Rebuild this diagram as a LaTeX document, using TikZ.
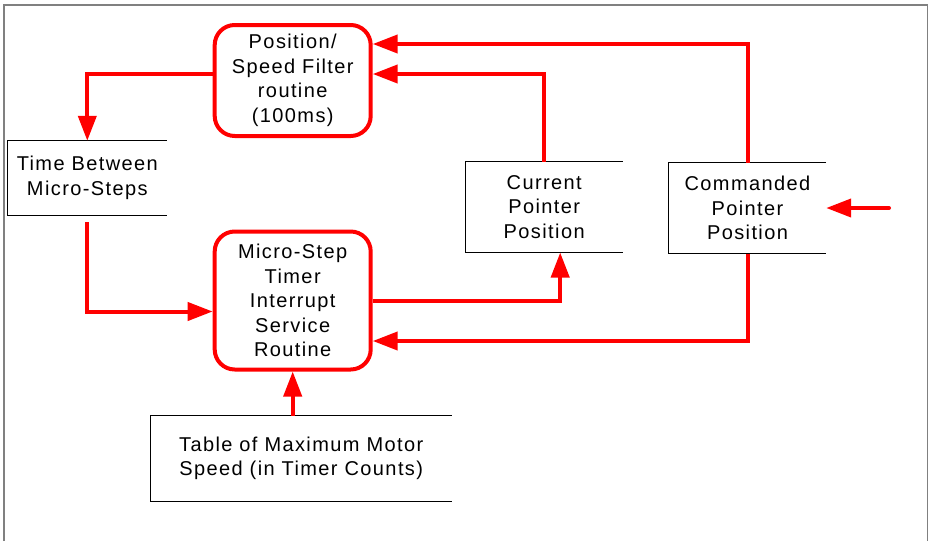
\documentclass[tikz,border=0pt]{standalone}
\usepackage{fontspec}
\usetikzlibrary{arrows.meta}
\newfontfamily\boxfont[LetterSpace=7]{Liberation Sans}
\definecolor{flowred}{rgb}{1.0,0.0,0.0}
\definecolor{framegray}{rgb}{0.5,0.5,0.5}

\begin{document}
\begin{tikzpicture}[
  x=1pt, y=-1pt,
  >={Triangle[length=25pt, width=18pt]},
  every node/.style={font=\boxfont\fontsize{20}{24.5}\selectfont, align=center, inner sep=0pt},
  routine/.style={rectangle, draw=flowred, line width=4pt, rounded corners=20pt, fill=white},
  store/.style={rectangle},
  storeline/.style={draw=black, line width=1.2pt},
  flow/.style={->, draw=flowred, line width=4pt},
  frame/.style={draw=framegray, line width=1.6pt},
]
\useasboundingbox (0,0) rectangle (929,541);

% ---- outer frame ----
\draw[frame] (4,541) -- (4,5) -- (927.5,5) -- (927.5,541);

% ---- routines ----
\node[routine, minimum width=156pt, minimum height=111pt] (filt) at (292.7, 80.5)
  {Position/\\Speed Filter\\routine\\(100ms)};
\node[routine, minimum width=156pt, minimum height=138pt] (isr) at (292.7, 300.5)
  {Micro-Step\\Timer\\Interrupt\\Service\\Routine};

% ---- data stores ----
\node[store, minimum width=158.7pt, minimum height=74pt] (tbms) at (87.3, 178)
  {Time Between\\Micro-Steps};
\node[store, minimum width=157pt, minimum height=90.6pt] (cur) at (544.2, 207)
  {Current\\Pointer\\Position};
\node[store, minimum width=157pt, minimum height=90.6pt] (cmd) at (747.5, 208)
  {Commanded\\Pointer\\Position};
\node[store, minimum width=301pt, minimum height=85pt] (tbl) at (301.2, 458.5)
  {Table of Maximum Motor\\Speed (in Timer Counts)};

% open on the right side
\foreach \n in {tbms, cur, cmd, tbl}
  \draw[storeline] (\n.north east) -| (\n.south west) -- (\n.south east);

% ---- outside input ----
\coordinate (cmdin) at (889, 208);

% ---- flows ----
\draw[flow] ([yshift=6.5pt]filt.west) -| (tbms.north);
\draw[flow, shorten <=7pt] (tbms.south) |- ([yshift=-11pt]isr.west);
\draw[flow] (isr.east) -| ([xshift=16pt]cur.south);
\draw[flow] (cur.north) |- ([yshift=6.5pt]filt.east);
\draw[flow] (cmd.north) |- ([yshift=36.5pt]filt.east);
\draw[flow] (cmd.south) |- ([yshift=-40.5pt]isr.east);
\draw[flow] (tbl.north -| isr.south) -- (isr.south);
\draw[flow, line cap=round] (cmdin) -- (cmd.east);

\end{tikzpicture}
\end{document}
